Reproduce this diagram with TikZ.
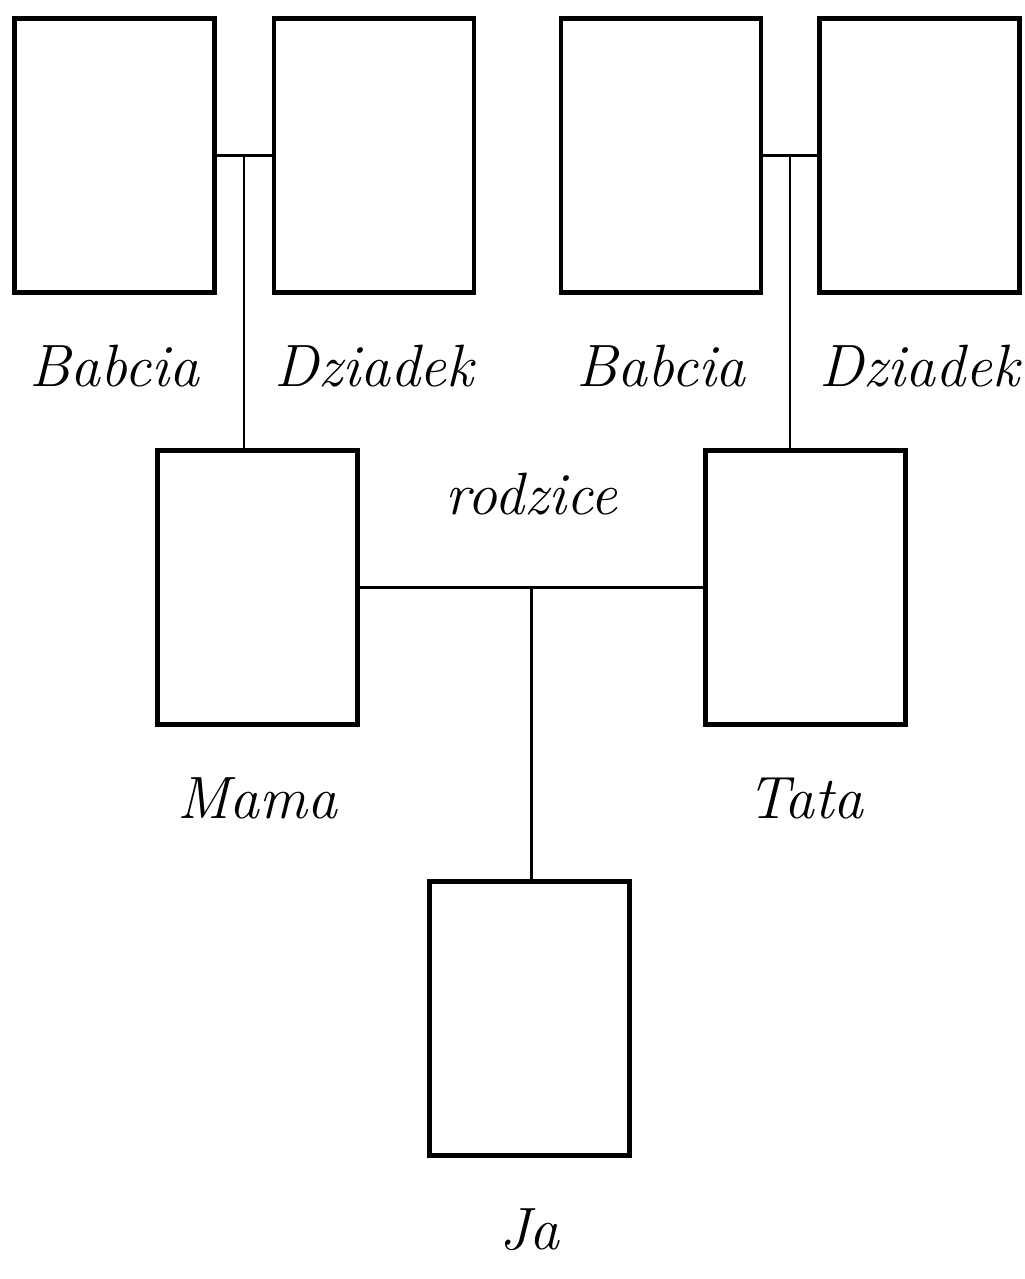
\documentclass[tikz,border=0pt]{standalone}
\usetikzlibrary{calc}
\begin{document}
\begin{tikzpicture}
    [photo/.style={draw, rectangle, line width=1.2pt,
      minimum width=2cm, minimum height=2.74cm, inner sep=0pt, outer sep=0pt},
     who/.style={font=\fontsize{17}{19}\selectfont\itshape, anchor=base, inner sep=0pt},
     link/.style={line width=0.6pt}]
    \def \gap {0.94cm} % baseline of a name below its box

    \useasboundingbox (0,0) rectangle (10.24,-12.79);

    \foreach \id/\x/\t in {babciaM/1.145/Babcia, dziadekM/3.74/Dziadek,
                           babciaT/6.61/Babcia, dziadekT/9.195/Dziadek}
    {
      \node[photo] (\id) at (\x,-1.555) {};
      \node[who] (\id-name) at ([yshift=-\gap]\id.south) {\t};
    }

    \node[photo] (mama) at (2.575,-5.875) {};
    \node[photo] (tata) at (8.055,-5.875) {};
    \node[photo] (ja) at (5.295,-10.185) {};
    \node[who] (mama-name) at ([yshift=-\gap]mama.south) {Mama};
    \node[who] (tata-name) at ([yshift=-\gap]tata.south) {Tata};
    \node[who] (ja-name) at ([yshift=-\gap]ja.south) {Ja};

    % pairs and their children
    \coordinate (parM) at ($(babciaM.east)!0.5!(dziadekM.west)$);
    \coordinate (parT) at ($(babciaT.east)!0.5!(dziadekT.west)$);
    \coordinate (parJ) at ($(mama.east)!0.5!(tata.west)$);

    \draw[link] (babciaM.east) -- (dziadekM.west);
    \draw[link] (parM) -- (parM |- mama.north);
    \draw[link] (babciaT.east) -- (dziadekT.west);
    \draw[link] (parT) -- (parT |- tata.north);
    \draw[link] (mama.east) -- (tata.west);
    \draw[link] (parJ) -- (parJ |- ja.north);

    \node[who] (rodzice) at ([yshift=0.73cm]parJ) {rodzice};
  \end{tikzpicture}
\end{document}
